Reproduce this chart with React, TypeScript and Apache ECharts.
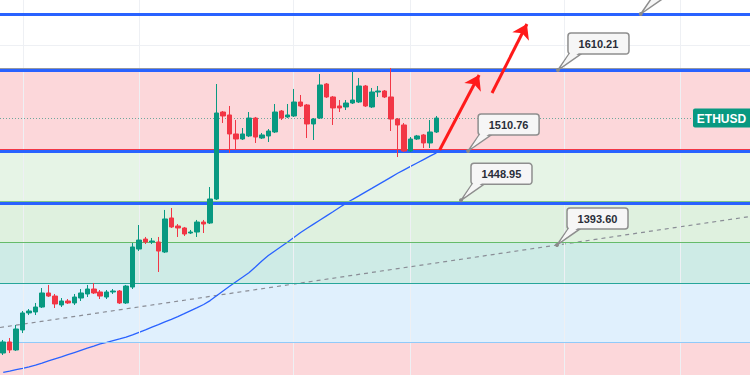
import React, { useEffect, useRef } from "react";
import * as echarts from "echarts";

// ---- data ----
const slotCount = 116;
const slots = Array.from({ length: slotCount }, (_, i) => String(i));

// [open, close, low, high]
const candles: number[][] = [
  [1267.6, 1281.0, 1265.2, 1283.4],
  [1281.0, 1271.3, 1267.6, 1285.8],
  [1271.3, 1296.7, 1270.1, 1301.5],
  [1295.5, 1316.1, 1291.8, 1318.5],
  [1316.1, 1318.5, 1313.6, 1320.9],
  [1317.3, 1323.3, 1313.6, 1328.2],
  [1323.3, 1340.3, 1322.1, 1346.3],
  [1340.3, 1336.6, 1335.4, 1350.0],
  [1336.6, 1327.0, 1322.1, 1339.1],
  [1325.8, 1330.6, 1323.3, 1334.2],
  [1330.6, 1328.2, 1327.0, 1333.0],
  [1328.2, 1335.4, 1325.8, 1339.1],
  [1334.2, 1340.3, 1330.6, 1345.1],
  [1339.1, 1345.1, 1335.4, 1350.0],
  [1345.1, 1340.3, 1339.1, 1352.4],
  [1341.5, 1336.6, 1333.0, 1343.9],
  [1335.4, 1341.5, 1333.0, 1343.9],
  [1341.5, 1342.7, 1339.1, 1345.1],
  [1342.7, 1328.2, 1327.0, 1343.9],
  [1328.2, 1348.7, 1327.0, 1350.0],
  [1347.5, 1396.0, 1345.1, 1400.8],
  [1393.5, 1404.4, 1391.1, 1422.6],
  [1405.6, 1402.0, 1399.6, 1408.1],
  [1402.0, 1403.2, 1399.6, 1406.9],
  [1402.0, 1391.1, 1365.7, 1408.1],
  [1389.9, 1429.9, 1388.7, 1440.8],
  [1431.1, 1420.2, 1419.0, 1443.2],
  [1421.4, 1419.0, 1408.1, 1423.8],
  [1419.0, 1411.7, 1409.3, 1420.2],
  [1412.9, 1414.1, 1411.7, 1416.6],
  [1414.1, 1426.2, 1408.1, 1428.7],
  [1426.2, 1423.8, 1412.9, 1428.7],
  [1425.0, 1454.1, 1423.8, 1468.6],
  [1454.1, 1558.2, 1452.9, 1593.3],
  [1559.4, 1554.6, 1546.1, 1560.6],
  [1555.8, 1532.8, 1509.8, 1566.7],
  [1532.8, 1526.7, 1513.4, 1549.7],
  [1526.7, 1532.8, 1525.5, 1540.0],
  [1530.4, 1552.1, 1529.1, 1559.4],
  [1552.1, 1529.1, 1521.9, 1553.4],
  [1527.9, 1531.6, 1526.7, 1534.0],
  [1530.4, 1536.4, 1523.1, 1538.8],
  [1535.2, 1559.4, 1534.0, 1569.1],
  [1560.6, 1552.1, 1549.7, 1561.8],
  [1553.4, 1555.8, 1552.1, 1569.1],
  [1554.6, 1571.5, 1553.4, 1587.3],
  [1571.5, 1566.7, 1565.5, 1580.0],
  [1567.9, 1544.9, 1527.9, 1569.1],
  [1544.9, 1550.9, 1525.5, 1552.1],
  [1552.1, 1592.1, 1550.9, 1605.4],
  [1593.3, 1577.6, 1576.4, 1594.5],
  [1577.6, 1564.3, 1543.7, 1578.8],
  [1566.7, 1564.3, 1559.4, 1573.9],
  [1565.5, 1570.3, 1561.8, 1573.9],
  [1570.3, 1573.9, 1569.1, 1607.8],
  [1571.5, 1590.9, 1570.3, 1600.6],
  [1590.9, 1566.7, 1565.5, 1592.1],
  [1565.5, 1583.6, 1564.3, 1588.5],
  [1583.6, 1584.8, 1577.6, 1590.9],
  [1584.8, 1577.6, 1576.4, 1586.0],
  [1577.6, 1550.9, 1536.4, 1612.7],
  [1550.9, 1543.7, 1504.9, 1552.1],
  [1543.7, 1512.2, 1511.0, 1546.1],
  [1512.2, 1526.7, 1511.0, 1529.1],
  [1526.7, 1530.4, 1525.5, 1531.6],
  [1531.6, 1521.9, 1515.8, 1532.8],
  [1521.9, 1535.2, 1515.8, 1549.7],
  [1535.2, 1552.1, 1534.0, 1554.6],
];

const movingAverage: number[] = [
  1244.3, 1245.8, 1247.5, 1249.1, 1250.9, 1252.9, 1255.4, 1258.0, 1260.5, 1263.0,
  1265.6, 1268.2, 1270.8, 1273.4, 1276.0, 1278.7, 1280.6, 1282.7, 1284.7, 1286.8,
  1289.7, 1292.7, 1295.7, 1298.9, 1302.0, 1305.3, 1308.4, 1311.7, 1315.3, 1319.0,
  1322.6, 1326.4, 1331.1, 1336.9, 1342.8, 1348.4, 1354.0, 1359.4, 1364.9, 1371.8,
  1379.0, 1385.6, 1391.1, 1396.6, 1402.1, 1407.7, 1413.5, 1418.6, 1423.7, 1428.7,
  1433.7, 1438.7, 1443.8, 1448.8, 1453.4, 1457.8, 1462.4, 1466.9, 1471.5, 1476.0,
  1480.6, 1485.2, 1489.4, 1493.5, 1497.7, 1501.8, 1505.9, 1510.0,
];

const trendline: number[][] = [
  [-0.5, 1298.5],
  [115.5, 1432.9],
];

const blueLevels: number[] = [1678.05, 1610.21, 1512.2, 1448.95];

// fib zone boundaries (top, bottom) pairs
const bandBounds: number[][] = [
  [1610.21, 1512.2],
  [1512.2, 1448.95],
  [1448.95, 1402.0],
  [1402.0, 1352.4],
  [1352.4, 1281.0],
  [1281.0, 1241.0],
];
const bandColors = [
  "rgba(242,54,69,0.2)",
  "rgba(129,199,132,0.2)",
  "rgba(76,175,80,0.18)",
  "rgba(8,153,129,0.2)",
  "rgba(100,181,246,0.2)",
  "rgba(242,54,69,0.2)",
];
const fibLines: number[] = [1612.6, 1514.0, 1451.0, 1402.0, 1352.4, 1281.0];
const fibLineColors = ["#9598a1", "#f23645", "#81c784", "#66bb6a", "#26a69a", "#90caf9"];

const arrows: number[][][] = [
  [[67.5, 1513.4], [73.6, 1604.2]],
  [[75.6, 1582.4], [81.0, 1666.0]],
];

// callouts: [x index, anchor price, label value]
const callouts: number[][] = [
  [85.8, 1610.21, 1610.21],
  [71.9, 1512.2, 1510.76],
  [70.8, 1452.5, 1448.95],
  [85.65, 1398.4, 1393.6],
];
const topPointer: number[][] = [[98.6, 1678.05]];

const vGrid: number[] = [3.06, 21.0, 44.8, 62.9, 86.7, 104.7];
const hGrid: number[] = [1640.5];

const symbolName = "ETHUSD";
const lastClose = candles[candles.length - 1][1];

const GREEN = "#089981";
const RED = "#f23645";

export default function App() {
  const ref = useRef<HTMLDivElement | null>(null);

  useEffect(() => {
    if (!ref.current) return;
    const chart = echarts.init(ref.current, null, { renderer: "svg" });

    const host = [[-0.5, 1241]];

    const option: any = {
      animation: false,
      backgroundColor: "#ffffff",
      grid: { left: 0, right: 0, top: 0, bottom: 0 },
      xAxis: [
        { type: "category", data: slots, show: false, boundaryGap: true },
        { type: "value", min: -0.5, max: 115.5, show: false },
      ],
      yAxis: { type: "value", min: 1241, max: 1695, show: false },
      series: [
        {
          name: "grid",
          type: "line",
          xAxisIndex: 1,
          data: host,
          showSymbol: false,
          lineStyle: { opacity: 0 },
          z: 0,
          silent: true,
          markLine: {
            silent: true,
            symbol: ["none", "none"],
            label: { show: false },
            lineStyle: { color: "#eef0f4", width: 1, type: "solid" },
            data: [
              ...vGrid.map((v) => ({ xAxis: v })),
              ...hGrid.map((v) => ({ yAxis: v })),
            ],
          },
        },
        {
          name: "bands",
          type: "line",
          xAxisIndex: 1,
          data: host,
          showSymbol: false,
          lineStyle: { opacity: 0 },
          z: 1,
          silent: true,
          markArea: {
            silent: true,
            label: { show: false },
            data: bandBounds.map((b, i) => [
              { yAxis: b[0], itemStyle: { color: bandColors[i] } },
              { yAxis: b[1] },
            ]),
          },
          markLine: {
            silent: true,
            symbol: ["none", "none"],
            label: { show: false },
            data: fibLines.map((v, i) => ({
              yAxis: v,
              lineStyle: { color: fibLineColors[i], width: 1, type: "solid" },
            })),
          },
        },
        {
          name: "trend",
          type: "line",
          xAxisIndex: 1,
          data: trendline,
          showSymbol: false,
          z: 3,
          silent: true,
          lineStyle: { color: "#8a8d96", width: 1.2, type: [4, 4] },
        },
        {
          name: "MA",
          type: "line",
          data: movingAverage,
          showSymbol: false,
          z: 4,
          silent: true,
          lineStyle: { color: "#2962ff", width: 1.3 },
        },
        {
          name: "blue",
          type: "line",
          xAxisIndex: 1,
          data: host,
          showSymbol: false,
          lineStyle: { opacity: 0 },
          z: 4,
          silent: true,
          markLine: {
            silent: true,
            symbol: ["none", "none"],
            label: { show: false },
            lineStyle: { color: "#2962ff", width: 3, type: "solid" },
            data: blueLevels.map((v) => ({ yAxis: v })),
          },
        },
        {
          name: symbolName,
          type: "candlestick",
          data: candles,
          barWidth: 5,
          z: 5,
          silent: true,
          itemStyle: {
            color: GREEN,
            color0: RED,
            borderColor: GREEN,
            borderColor0: RED,
            borderWidth: 1,
          },
        },
        {
          name: "price",
          type: "line",
          xAxisIndex: 1,
          data: host,
          showSymbol: false,
          lineStyle: { opacity: 0 },
          z: 6,
          silent: true,
          markLine: {
            silent: true,
            symbol: ["none", "none"],
            label: { show: false },
            lineStyle: { color: "#6fa89c", width: 1, type: [1, 2] },
            data: [[{ coord: [-0.5, lastClose] }, { coord: [106.7, lastClose] }]],
          },
        },
        {
          name: "arrows",
          type: "line",
          xAxisIndex: 1,
          data: host,
          showSymbol: false,
          lineStyle: { opacity: 0 },
          z: 7,
          silent: true,
          markLine: {
            silent: true,
            symbol: ["none", "arrow"],
            symbolSize: 14,
            label: { show: false },
            lineStyle: { color: "#ff1a1a", width: 3, type: "solid" },
            data: arrows.map((a) => [{ coord: a[0] }, { coord: a[1] }]),
          },
        },
        {
          name: "callouts",
          type: "custom",
          xAxisIndex: 1,
          yAxisIndex: 0,
          z: 8,
          silent: true,
          encode: { x: 0, y: 1 },
          data: callouts,
          renderItem: (params: any, api: any) => {
            const p = api.coord([api.value(0), api.value(1)]);
            const x = p[0];
            const y = p[1];
            const text = Number(api.value(2)).toFixed(2);
            const bw = 61;
            const bh = 21;
            const bx = x + 10;
            const by = y - 37;
            const fill = "#f6f6f6";
            const stroke = "#8e8e8e";
            return {
              type: "group",
              children: [
                {
                  type: "polygon",
                  shape: { points: [[x, y], [bx + 1, by + bh], [bx + 13, by + bh]] },
                  style: { fill, stroke, lineWidth: 1.5 },
                },
                {
                  type: "rect",
                  shape: { x: bx, y: by, width: bw, height: bh, r: 3 },
                  style: { fill, stroke, lineWidth: 1.5 },
                },
                {
                  type: "polygon",
                  shape: { points: [[bx + 2.5, by + bh - 1.5], [bx + 11.5, by + bh - 1.5], [x + 3, y - 3]] },
                  style: { fill },
                },
                {
                  type: "text",
                  style: {
                    text,
                    x: bx + bw / 2,
                    y: by + bh / 2 + 0.5,
                    align: "center",
                    verticalAlign: "middle",
                    fill: "#2a2e39",
                    font: 'bold 11px "Liberation Sans", Arial, sans-serif',
                  },
                },
                {
                  type: "circle",
                  shape: { cx: x, cy: y, r: 2 },
                  style: { fill: "#8a8a8a" },
                },
              ],
            };
          },
        },
        {
          name: "topPointer",
          type: "custom",
          xAxisIndex: 1,
          yAxisIndex: 0,
          z: 8,
          silent: true,
          encode: { x: 0, y: 1 },
          data: topPointer,
          renderItem: (params: any, api: any) => {
            const p = api.coord([api.value(0), api.value(1)]);
            const x = p[0];
            const y = p[1];
            return {
              type: "group",
              children: [
                {
                  type: "polygon",
                  shape: { points: [[x, y], [x + 11, y - 16], [x + 23, y - 16]] },
                  style: { fill: "#f6f6f6", stroke: "#8e8e8e", lineWidth: 1.5 },
                },
                {
                  type: "circle",
                  shape: { cx: x, cy: y, r: 2 },
                  style: { fill: "#8a8a8a" },
                },
              ],
            };
          },
        },
        {
          name: "symbolLabel",
          type: "custom",
          xAxisIndex: 1,
          yAxisIndex: 0,
          z: 9,
          silent: true,
          encode: { x: 0, y: 1 },
          data: [[115.5, lastClose]],
          renderItem: (params: any, api: any) => {
            const p = api.coord([api.value(0), api.value(1)]);
            const x = p[0];
            const y = p[1];
            return {
              type: "group",
              children: [
                {
                  type: "rect",
                  shape: { x: x - 57, y: y - 9.5, width: 57, height: 19, r: [2, 0, 0, 2] },
                  style: { fill: GREEN },
                },
                {
                  type: "text",
                  style: {
                    text: symbolName,
                    x: x - 28.5,
                    y: y + 0.5,
                    align: "center",
                    verticalAlign: "middle",
                    fill: "#ffffff",
                    font: 'bold 12px "Liberation Sans", Arial, sans-serif',
                  },
                },
              ],
            };
          },
        },
      ],
    };

    chart.setOption(option);
    return () => {
      chart.dispose();
    };
  }, []);

  return (
    <div
      ref={ref}
      style={{ position: "absolute", left: 0, top: 0, width: 750, height: 375 }}
    />
  );
}
